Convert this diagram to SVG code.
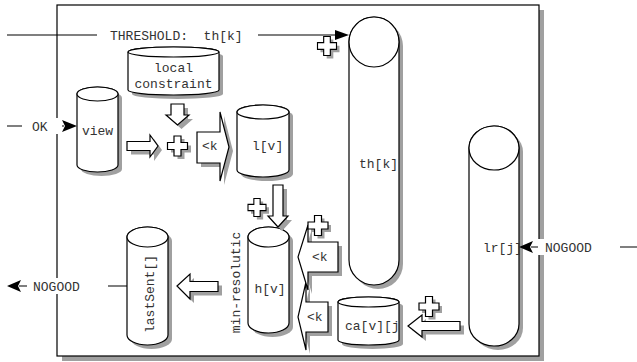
<svg xmlns="http://www.w3.org/2000/svg" width="637" height="362" viewBox="0 0 637 362">
<style>
.sh{fill:#a0a0a0;stroke:none}
.sp{fill:#fff;stroke:#000;stroke-width:1.2}
.t{font-family:"Liberation Mono","DejaVu Sans Mono",monospace;font-size:13px;fill:#333;white-space:pre}
.ln{stroke:#000;stroke-width:1.2;fill:none}
.ah{fill:#000}
.bg{fill:#fff}
</style>
<defs>
<polygon id="cross" points="-3.5,-10 3.5,-10 3.5,-3.5 10,-3.5 10,3.5 3.5,3.5 3.5,10 -3.5,10 -3.5,3.5 -10,3.5 -10,-3.5 -3.5,-3.5"/>
<clipPath id="caclip"><rect x="338" y="290" width="61" height="60"/></clipPath>
</defs>
<rect x="0" y="0" width="637" height="362" fill="#fff"/>
<g id="frame">
<rect class="sh" x="62" y="10" width="482" height="351"/>
<rect x="57" y="5" width="482" height="351" fill="#fff" stroke="#000" stroke-width="1.2"/>
</g>
<g id="node-local">
<path class="sh" transform="translate(4,4)" d="M128,52 A45.5,5 0 0 1 219,52 L219,90 A45.5,5 0 0 1 128,90 Z"/>
<path class="sp" d="M128,52 A45.5,5 0 0 1 219,52 L219,90 A45.5,5 0 0 1 128,90 Z"/>
<ellipse class="sp" cx="173.5" cy="52" rx="45.5" ry="5"/>
<text class="t" x="173.5" y="71.5" text-anchor="middle">local</text>
<text class="t" x="173.5" y="87.5" text-anchor="middle">constraint</text>
</g>
<g id="node-view">
<path class="sh" transform="translate(4,4)" d="M77,94 A20.5,7 0 0 1 118,94 L118,165 A20.5,7 0 0 1 77,165 Z"/>
<path class="sp" d="M77,94 A20.5,7 0 0 1 118,94 L118,165 A20.5,7 0 0 1 77,165 Z"/>
<ellipse class="sp" cx="97.5" cy="94" rx="20.5" ry="7"/>
<text class="t" x="97.5" y="135" text-anchor="middle">view</text>
</g>
<g id="node-lv">
<path class="sh" transform="translate(4,4)" d="M237,112 A26,7 0 0 1 289,112 L289,170 A26,7 0 0 1 237,170 Z"/>
<path class="sp" d="M237,112 A26,7 0 0 1 289,112 L289,170 A26,7 0 0 1 237,170 Z"/>
<ellipse class="sp" cx="263" cy="112" rx="26" ry="7"/>
<text class="t" x="252" y="149.5">l[v]</text>
</g>
<g id="node-thk">
<path class="sh" transform="translate(4,4)" d="M349,42 A25,25 0 0 1 399,42 L399,260 A25,25 0 0 1 349,260 Z"/>
<path class="sp" d="M349,42 A25,25 0 0 1 399,42 L399,260 A25,25 0 0 1 349,260 Z"/>
<circle class="sp" cx="374" cy="42" r="25"/>
<text class="t" x="359" y="167.5">th[k]</text>
</g>
<g id="node-lrj">
<path class="sh" transform="translate(4,4)" d="M469,148 A25,22 0 0 1 519,148 L519,324 A25,22 0 0 1 469,324 Z"/>
<path class="sp" d="M469,148 A25,22 0 0 1 519,148 L519,324 A25,22 0 0 1 469,324 Z"/>
<ellipse class="sp" cx="494" cy="148" rx="25" ry="22"/>
<text class="t" x="483" y="251.5">lr[j]</text>
</g>
<g id="node-hv">
<path class="sh" transform="translate(4,4)" d="M248,237 A20.5,10 0 0 1 289,237 L289,323 A20.5,10 0 0 1 248,323 Z"/>
<path class="sp" d="M248,237 A20.5,10 0 0 1 289,237 L289,323 A20.5,10 0 0 1 248,323 Z"/>
<ellipse class="sp" cx="268.5" cy="237" rx="20.5" ry="10"/>
<text class="t" x="270" y="292.5" text-anchor="middle">h[v]</text>
<text class="t" transform="translate(235,282.5) rotate(-90)" text-anchor="middle" dy="0.35em">min-resolutic</text>
</g>
<g id="node-lastsent">
<path class="sh" transform="translate(4,4)" d="M127,237 A20.5,10 0 0 1 168,237 L168,335 A20.5,10 0 0 1 127,335 Z"/>
<path class="sp" d="M127,237 A20.5,10 0 0 1 168,237 L168,335 A20.5,10 0 0 1 127,335 Z"/>
<ellipse class="sp" cx="147.5" cy="237" rx="20.5" ry="10"/>
<text class="t" transform="translate(149,294) rotate(-90)" text-anchor="middle" dy="0.35em">lastSent[]</text>
</g>
<g id="node-ca">
<path class="sh" transform="translate(4,4)" d="M338,302 A30.5,5 0 0 1 399,302 L399,340 A30.5,5 0 0 1 338,340 Z"/>
<path class="sp" d="M338,302 A30.5,5 0 0 1 399,302 L399,340 A30.5,5 0 0 1 338,340 Z"/>
<ellipse class="sp" cx="368.5" cy="302" rx="30.5" ry="5"/>
<text class="t" x="345" y="329.5" clip-path="url(#caclip)">ca[v][j</text>
</g>
<g id="op-k1">
<polygon class="sh" transform="translate(4,4)" points="197,132 220,132 220,112 229,147 220,181 220,163 197,163"/>
<polygon class="sp" points="197,132 220,132 220,112 229,147 220,181 220,163 197,163"/>
<text class="t" x="202" y="150">&lt;k</text>
</g>
<g id="op-k3">
<polygon class="sh" transform="translate(4,4)" points="328,302 306,302 306,282 298,317 306,350 306,332 328,332"/>
<polygon class="sp" points="328,302 306,302 306,282 298,317 306,350 306,332 328,332"/>
<text class="t" x="307" y="321">&lt;k</text>
</g>
<g id="op-k2">
<polygon class="sh" transform="translate(4,4)" points="338,242 308,242 308,225 298,257 308,290 308,272 338,272"/>
<polygon class="sp" points="338,242 308,242 308,225 298,257 308,290 308,272 338,272"/>
<text class="t" x="312" y="261">&lt;k</text>
</g>
<g id="op-plus1">
<use href="#cross" class="sh" transform="translate(181,149)"/>
<use href="#cross" class="sp" transform="translate(177.5,146)"/>
</g>
<g id="op-plus2">
<use href="#cross" class="sh" transform="translate(260,210.5) scale(0.9)"/>
<use href="#cross" class="sp" transform="translate(257,207.5) scale(0.9)"/>
</g>
<g id="op-plus3">
<use href="#cross" class="sh" transform="translate(321,228.5)"/>
<use href="#cross" class="sp" transform="translate(318,225.5)"/>
</g>
<g id="op-plus4">
<use href="#cross" class="sh" transform="translate(432,309.5)"/>
<use href="#cross" class="sp" transform="translate(429,306.5)"/>
</g>
<g id="op-plus5">
<use href="#cross" class="sh" transform="translate(330,49) scale(0.95)"/>
<use href="#cross" class="sp" transform="translate(327,46) scale(0.95)"/>
</g>
<g id="connectors">
<polygon class="sh" transform="translate(4,4)" points="171,104 184,104 184,115 189,115 177.5,125 166,115 171,115"/>
<polygon class="sp" points="171,104 184,104 184,115 189,115 177.5,125 166,115 171,115"/>
<polygon class="sh" transform="translate(4,4)" points="127,141.5 150,141.5 150,135 158,146 150,157 150,150.5 127,150.5"/>
<polygon class="sp" points="127,141.5 150,141.5 150,135 158,146 150,157 150,150.5 127,150.5"/>
<polygon class="sh" transform="translate(4,4)" points="273,185 283,185 283,216 288,216 278,227 268,216 273,216"/>
<polygon class="sp" points="273,185 283,185 283,216 288,216 278,227 268,216 273,216"/>
<polygon class="sh" transform="translate(4,4)" points="177,286 190,274 190,281.5 218,281.5 218,291.5 190,291.5 190,299"/>
<polygon class="sp" points="177,286 190,274 190,281.5 218,281.5 218,291.5 190,291.5 190,299"/>
<polygon class="sh" transform="translate(4,4)" points="408,326 422,315 422,321.5 460,321.5 460,330.5 422,330.5 422,337"/>
<polygon class="sp" points="408,326 422,315 422,321.5 460,321.5 460,330.5 422,330.5 422,337"/>
<line class="ln" x1="7" y1="35" x2="336" y2="35"/>
<polygon class="ah" points="349,35 335,30 335,40"/>
<rect class="bg" x="97" y="28" width="161" height="14"/>
<text class="t" x="110" y="39.5">THRESHOLD:  th[k]</text>
<line class="ln" x1="7" y1="126" x2="64" y2="126"/>
<polygon class="ah" points="77,126 62,120 65,126 62,132"/>
<rect class="bg" x="22" y="118" width="40" height="16"/>
<text class="t" x="32" y="130.5">OK</text>
<line class="ln" x1="127" y1="286" x2="19" y2="286"/>
<polygon class="ah" points="7,286 21,280 18,286 21,292"/>
<rect class="bg" x="27" y="278" width="81" height="16"/>
<text class="t" x="33" y="290.5">NOGOOD</text>
<line class="ln" x1="637" y1="247" x2="531" y2="247"/>
<polygon class="ah" points="519,247 533,241 530,247 533,253"/>
<rect class="bg" x="538" y="239" width="82" height="16"/>
<text class="t" x="545" y="251.5">NOGOOD</text>
</g>
</svg>
